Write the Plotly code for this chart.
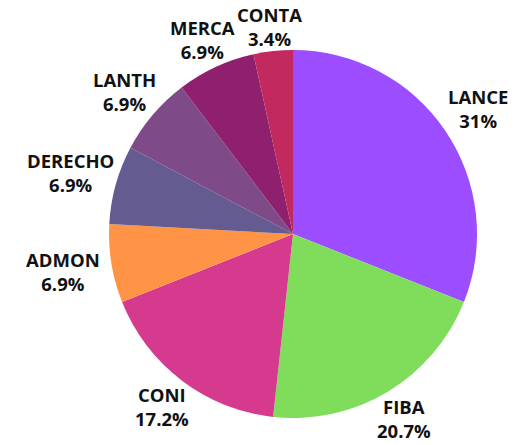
import math
import plotly.graph_objects as go

labels = ["LANCE", "FIBA", "CONI", "ADMON", "DERECHO", "LANTH", "MERCA", "CONTA"]
values = [9, 6, 5, 2, 2, 2, 2, 1]
colors = ["#9B4DFF", "#80DD5C", "#D63A8E", "#FF9447", "#645B91", "#7E4A87", "#8E206D", "#C2295F"]

W, H = 516, 445
cx, cy, r = 293, 234, 184
FS = 18.5

fig = go.Figure(go.Pie(
    labels=labels,
    values=values,
    sort=False,
    direction="clockwise",
    rotation=0,
    marker=dict(colors=colors, line=dict(width=0)),
    textinfo="none",
    hoverinfo="label+percent",
    showlegend=False,
    domain=dict(x=[(cx - r) / W, (cx + r) / W], y=[1 - (cy + r) / H, 1 - (cy - r) / H]),
))


def fmt_pct(p):
    s = f"{p:.1f}"
    if s.endswith(".0"):
        s = s[:-2]
    return s + "%"


total = sum(values)
cum = 0
annotations = []
half_box = FS * 1.3 + 2
for lab, v in zip(labels, values):
    mid = (cum + v / 2) / total * 2 * math.pi
    cum += v
    s, c = math.sin(mid), math.cos(mid)
    dist = 214 + 20 * abs(s) ** 4
    px = cx + dist * s
    py = max(cy - dist * c, half_box)
    py = min(py, H - half_box)
    annotations.append(dict(
        x=px / W, y=1 - py / H, xref="paper", yref="paper",
        text=f"{lab}<br>{fmt_pct(v / total * 100)}",
        showarrow=False, xanchor="center", yanchor="middle", align="center",
        borderpad=0,
        font=dict(family="Open Sans", size=FS, color="#111111", weight="bold"),
    ))

fig.update_layout(
    width=W, height=H,
    margin=dict(l=0, r=0, t=0, b=0),
    paper_bgcolor="white",
    showlegend=False,
    annotations=annotations,
)
fig.write_html("out.html", config={"displayModeBar": False},
               post_script="document.body.style.margin='0';")
